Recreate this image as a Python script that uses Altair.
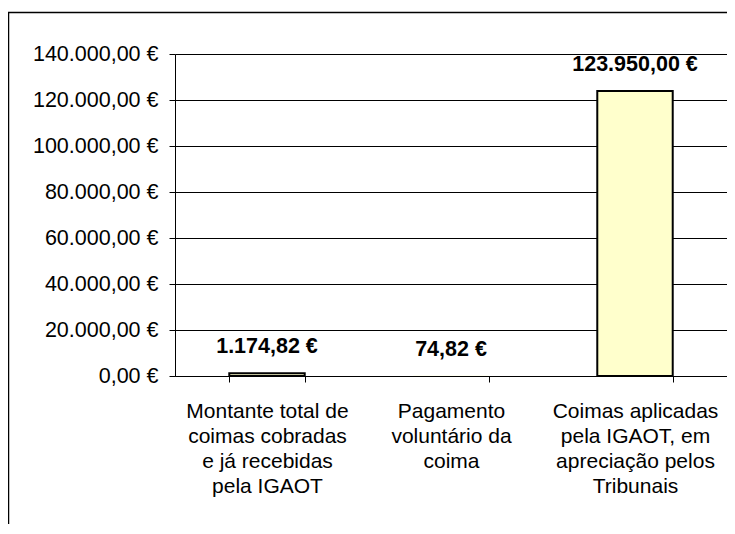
import altair as alt
import pandas as pd

# Data
categorias = [
    "Montante total de|coimas cobradas|e já recebidas|pela IGAOT",
    "Pagamento|voluntário da|coima",
    "Coimas aplicadas|pela IGAOT, em|apreciação pelos|Tribunais",
]
valores = [1174.82, 74.82, 123950.00]
y_ticks = [0, 20000, 40000, 60000, 80000, 100000, 120000, 140000]

df = pd.DataFrame({"categoria": categorias, "valor": valores})

euro_expr = (
    "replace(replace(replace(format({v}, ',.2f'), regexp(',', 'g'), '#'), "
    "regexp('[.]', 'g'), ','), regexp('#', 'g'), '.') + ' €'"
)

FONT = "Liberation Sans"

base = alt.Chart(df).encode(
    x=alt.X(
        "categoria:N",
        sort=None,
        title=None,
        scale=alt.Scale(paddingInner=0.59, paddingOuter=0.295),
        axis=alt.Axis(
            labelExpr="split(datum.label, '|')",
            labelAngle=0,
            labelFontSize=21,
            labelLineHeight=25,
            labelPadding=18,
            labelColor="#000000",
            labelFont=FONT,
            labelBaseline="top",
            tickBand="extent",
            tickSize=6,
            tickColor="#000000",
            domainColor="#000000",
            grid=False,
        ),
    ),
    y=alt.Y(
        "valor:Q",
        title=None,
        scale=alt.Scale(domain=[0, 140000], nice=False),
        axis=alt.Axis(
            values=y_ticks,
            labelExpr=euro_expr.format(v="datum.value"),
            labelFontSize=21.5,
            labelPadding=11,
            labelColor="#000000",
            labelFont=FONT,
            tickSize=6,
            tickColor="#000000",
            domainColor="#000000",
            grid=True,
            gridColor="#000000",
            gridOpacity=1,
        ),
    ),
)

bars = base.mark_bar(fill="#FFFFCC", stroke="#000000").encode(
    strokeWidth=alt.condition("datum.valor < 100", alt.value(0), alt.value(2))
)

labels = base.transform_calculate(
    rotulo=euro_expr.format(v="datum.valor")
).mark_text(
    fontSize=21.5, fontWeight="bold", font=FONT, baseline="alphabetic", dy=-20, color="#000000"
).encode(text="rotulo:N")

frame = alt.Chart(alt.Data(values=[{}])).mark_rect(
    fill=None, stroke="#000000", strokeWidth=1.5
).encode(
    x=alt.value(-166.5), x2=alt.value(700), y=alt.value(-41.5), y2=alt.value(700)
)

chart = alt.layer(frame, bars, labels).properties(
    width=552,
    height=322,
    autosize=alt.AutoSizeParams(type="none"),
    padding={"left": 167, "top": 46, "right": 0, "bottom": 148},
).configure_view(
    stroke="#808080", strokeWidth=1
).configure(background="#ffffff")

chart.save("out.html", embed_options={"renderer": "svg", "actions": False})
